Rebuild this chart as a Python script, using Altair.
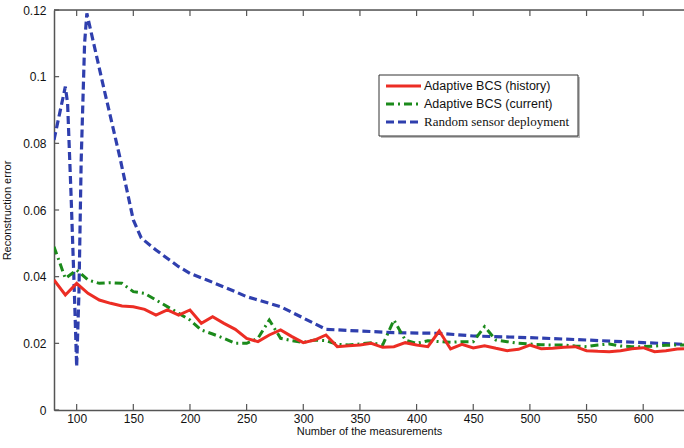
import altair as alt
import pandas as pd

red_x = [80, 90, 100, 110, 120, 130, 140, 150, 160, 170, 180, 190, 200, 210, 220, 230, 240, 250,
         260, 270, 280, 290, 300, 310, 320, 330, 340, 350, 360, 370, 380, 390, 400, 410, 420, 430,
         440, 450, 460, 470, 480, 490, 500, 510, 520, 530, 540, 550, 560, 570, 580, 590, 600, 610,
         620, 630, 636]
red_y = [0.039, 0.0345, 0.038, 0.035, 0.033, 0.032, 0.0312, 0.031, 0.0302, 0.0285, 0.030, 0.0285,
         0.030, 0.026, 0.028, 0.026, 0.0242, 0.0215, 0.0205, 0.0225, 0.024, 0.022, 0.0202, 0.021,
         0.0225, 0.019, 0.0193, 0.0195, 0.020, 0.0188, 0.019, 0.0202, 0.0195, 0.019, 0.0237, 0.0183,
         0.0197, 0.0186, 0.0193, 0.0185, 0.0178, 0.0182, 0.0195, 0.0184, 0.0185, 0.0188, 0.019,
         0.0178, 0.0176, 0.0175, 0.0178, 0.0184, 0.0187, 0.0175, 0.0178, 0.0183, 0.0184]

green_x = red_x
green_y = [0.049, 0.0395, 0.042, 0.039, 0.038, 0.0382, 0.038, 0.0355, 0.035, 0.033, 0.031, 0.029,
           0.027, 0.024, 0.0228, 0.0215, 0.020, 0.020, 0.0215, 0.027, 0.0215, 0.0208, 0.0203, 0.021,
           0.0208, 0.0197, 0.0195, 0.0198, 0.0202, 0.0195, 0.027, 0.021, 0.020, 0.0208, 0.0205,
           0.0203, 0.0205, 0.0205, 0.025, 0.021, 0.0205, 0.020, 0.0198, 0.0196, 0.0195, 0.0195,
           0.0192, 0.019, 0.0195, 0.0198, 0.0192, 0.019, 0.019, 0.0192, 0.0194, 0.0195, 0.0195]

blue_x = [80, 85, 90, 92, 95, 98, 100, 102, 104, 107, 109, 123, 138, 150, 157, 170, 182, 190,
          200, 215, 240, 250, 280, 300, 320, 350, 380, 420, 450, 500, 550, 600, 636]
blue_y = [0.081, 0.089, 0.097, 0.092, 0.065, 0.035, 0.013, 0.035, 0.075, 0.110, 0.119, 0.098,
          0.076, 0.057, 0.0516, 0.048, 0.045, 0.043, 0.041, 0.039, 0.0355, 0.034, 0.031,
          0.0276, 0.0242, 0.0237, 0.0232, 0.023, 0.0222, 0.0217, 0.021, 0.0202, 0.0197]

x_ticks = [100, 150, 200, 250, 300, 350, 400, 450, 500, 550, 600]
y_ticks = [0, 0.02, 0.04, 0.06, 0.08, 0.1, 0.12]

RED, GREEN, BLUE = "#ec2d24", "#1b8a1b", "#2f3fae"
FONT = "Liberation Sans"

xs = alt.Scale(domain=[80, 636], nice=False, zero=False)
ys = alt.Scale(domain=[0, 0.12], nice=False)

xaxis = alt.Axis(values=x_ticks, grid=False, ticks=False, domainColor="#555", domainWidth=1.5,
                 labelFont=FONT, labelFontSize=12, labelColor="#111", labelPadding=3,
                 title="Number of the measurements", titleFont=FONT, titleFontSize=11,
                 titleFontWeight="normal", titleColor="#111", titlePadding=1)
yaxis = alt.Axis(values=y_ticks, format="~g", grid=False, ticks=False, domainColor="#555",
                 domainWidth=1.5, labelFont=FONT, labelFontSize=12, labelColor="#111",
                 labelPadding=8, title="Reconstruction error", titleFont=FONT, titleFontSize=11,
                 titleFontWeight="normal", titleColor="#111", titlePadding=10)

def series(xv, yv, name):
    return pd.DataFrame({"x": xv, "y": yv, "s": name})

red_df = series(red_x, red_y, "Adaptive BCS (history)")
green_df = series(green_x, green_y, "Adaptive BCS (current)")
blue_df = series(blue_x, blue_y, "Random sensor deployment")

base_enc = dict(x=alt.X("x:Q", scale=xs, axis=xaxis), y=alt.Y("y:Q", scale=ys, axis=yaxis))

red = alt.Chart(red_df).mark_line(color=RED, strokeWidth=3, clip=True).encode(**base_enc)
green = alt.Chart(green_df).mark_line(color=GREEN, strokeWidth=3, strokeDash=[8, 4, 2, 4],
                                      clip=True).encode(**base_enc)
blue = alt.Chart(blue_df).mark_line(color=BLUE, strokeWidth=3.2, strokeDash=[8, 4],
                                    clip=True).encode(**base_enc)

# frame: top border
top = alt.Chart(pd.DataFrame({"y": [0.12]})).mark_rule(color="#555", strokeWidth=1.5).encode(
    y=alt.Y("y:Q", scale=ys))

# inward ticks
bt = pd.DataFrame({"x": x_ticks, "y0": 0.0, "y1": 0.0018})
tt = pd.DataFrame({"x": x_ticks, "y0": 0.12, "y1": 0.1182})
lt = pd.DataFrame({"y": y_ticks, "x0": 80.0, "x1": 84.5})
tick_b = alt.Chart(bt).mark_rule(color="#555", strokeWidth=1.2).encode(
    x=alt.X("x:Q", scale=xs), y=alt.Y("y0:Q", scale=ys), y2="y1")
tick_t = alt.Chart(tt).mark_rule(color="#555", strokeWidth=1.2).encode(
    x=alt.X("x:Q", scale=xs), y=alt.Y("y0:Q", scale=ys), y2="y1")
tick_l = alt.Chart(lt).mark_rule(color="#555", strokeWidth=1.2).encode(
    y=alt.Y("y:Q", scale=ys), x=alt.X("x0:Q", scale=xs), x2="x1")

# manual legend
leg_box = alt.Chart(pd.DataFrame({"a": [0]})).mark_rect(
    fill="white", stroke="#333", strokeWidth=1).encode(
    x=alt.value(325), x2=alt.value(524), y=alt.value(65), y2=alt.value(126))
leg_shadow = alt.Chart(pd.DataFrame({"a": [0]})).mark_rect(
    fill="#bbb").encode(
    x=alt.value(327), x2=alt.value(526), y=alt.value(67), y2=alt.value(128))

def leg_line(ypix, color, dash, w=3):
    m = dict(color=color, strokeWidth=w)
    if dash:
        m["strokeDash"] = dash
    return alt.Chart(pd.DataFrame({"a": [0]})).mark_rule(**m).encode(
        x=alt.value(332), x2=alt.value(367), y=alt.value(ypix))

def leg_text(ypix, txt, font, size):
    return alt.Chart(pd.DataFrame({"a": [0]})).mark_text(
        text=txt, font=font, fontSize=size, align="left", baseline="middle", color="#111").encode(
        x=alt.value(370), y=alt.value(ypix))

legend = [leg_shadow, leg_box,
          leg_line(76, RED, None), leg_text(76, "Adaptive BCS (history)", FONT, 12.5),
          leg_line(94, GREEN, [8, 4, 2, 4]), leg_text(94, "Adaptive BCS (current)", FONT, 12.5),
          leg_line(112, BLUE, [8, 4]),
          leg_text(112, "Random sensor deployment", "Liberation Serif", 13)]

chart = alt.layer(blue, green, red, top, tick_b, tick_t, tick_l, *legend).properties(
    width=630, height=400,
    padding={"left": 54, "top": 10, "right": 0, "bottom": 38},
    autosize=alt.AutoSizeParams(type="none"),
).configure_view(stroke=None).configure(background="white")

chart.save("out.html", embed_options={"renderer": "svg", "actions": False})
